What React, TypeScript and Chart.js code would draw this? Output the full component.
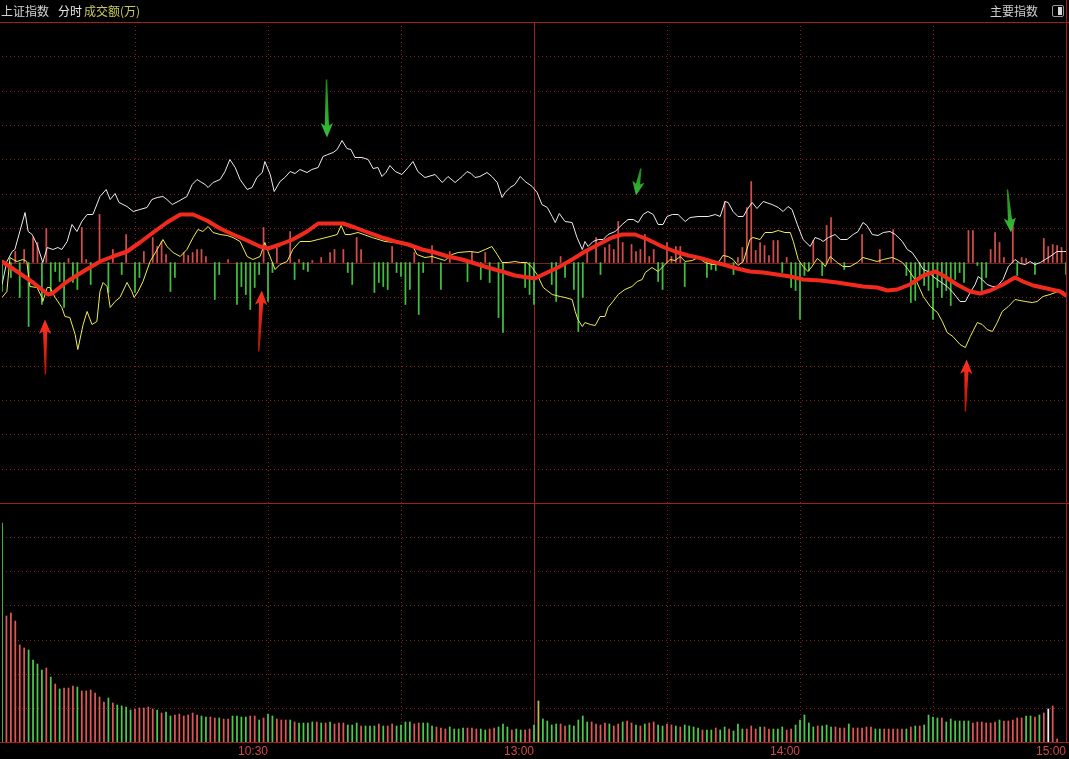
import React, { useEffect, useRef } from 'react';
import { Chart, registerables } from 'chart.js';

Chart.register(...registerables);

// ---------------- axis data ----------------
// x = minutes of the trading session (0 = 9:30, 120 = 11:30/13:00, 240 = 15:00)
const xTickMinutes = [60, 120, 180, 240];
const xTickLabels = ['10:30', '13:00', '14:00', '15:00'];
const dottedGridMinutes = [30, 60, 90, 150, 180, 210];
const sessionBreakMinute = 120;

// top panel value units (zero line in the middle), bottom panel volume units
const priceTop = 240.5;
const priceStep = 481 / 14;
const volumePanelTop = 239;
const volumeStep = 239 / 7;

// ---------------- series ----------------
const indexLine = [
  [0, -22], [1.1, 1], [2.3, 11], [2.9, 13], [5.2, 50], [5.9, 31], [6.8, 28], [7.9, 18], [9.2, 0], [10.2, 15],
  [11.5, 13], [12.6, 15], [13.5, 13], [14.7, 21], [15.8, 38], [16.9, 31], [18.0, 41], [19.2, 48], [20.5, 48], [22.1, 66],
  [23.5, 73], [24.4, 63], [25.5, 69], [26.4, 60], [28.2, 56], [29.6, 51], [31.1, 53], [32.7, 55], [33.8, 63], [35.0, 65],
  [36.3, 66], [37.2, 63], [38.4, 58], [39.7, 61], [41.7, 66], [42.9, 78], [44.0, 83], [44.7, 81], [45.8, 78], [46.5, 75],
  [47.6, 80], [49.2, 83], [50.3, 91], [51.4, 103], [52.6, 95], [53.7, 83], [55.3, 73], [56.4, 75], [57.5, 85], [58.7, 90],
  [59.3, 101], [60.5, 88], [61.4, 71], [62.7, 81], [63.8, 85], [65.0, 91], [66.1, 89], [67.2, 93], [68.8, 90], [69.9, 93],
  [71.3, 95], [72.4, 106], [73.5, 108], [74.7, 110], [75.6, 113], [76.7, 122], [77.8, 114], [78.7, 113], [79.6, 105], [81.2, 105],
  [82.6, 103], [83.7, 94], [84.8, 95], [85.7, 86], [86.6, 90], [87.5, 97], [88.7, 91], [90.2, 88], [91.6, 95], [92.7, 101],
  [93.8, 91], [95.4, 85], [97.7, 88], [99.3, 80], [100.6, 86], [102.2, 80], [103.8, 86], [104.9, 91], [105.8, 89], [106.7, 85],
  [107.8, 86], [109.4, 90], [110.5, 86], [111.7, 80], [112.8, 65], [113.5, 70], [114.6, 75], [115.7, 78], [116.9, 86], [118.0, 81],
  [119.6, 76], [120.7, 70], [121.8, 58], [123.0, 55], [124.1, 46], [124.8, 40], [125.7, 49], [127.0, 41], [128.6, 40], [129.7, 25],
  [130.9, 13], [131.5, 21], [132.2, 16], [133.3, 21], [134.5, 23], [135.6, 23], [136.7, 28], [138.3, 31], [139.9, 38], [141.2, 43],
  [142.4, 43], [143.5, 40], [144.6, 48], [145.7, 51], [146.9, 48], [148.0, 38], [149.1, 38], [150.0, 46], [151.2, 48], [152.5, 48],
  [154.1, 41], [155.2, 45], [157.0, 46], [159.3, 46], [160.9, 48], [162.0, 46], [163.1, 61], [163.8, 60], [164.9, 51], [166.0, 46],
  [167.2, 46], [168.1, 53], [169.2, 60], [170.3, 54], [171.7, 61], [173.7, 58], [175.1, 55], [176.2, 51], [177.3, 56], [178.2, 53],
  [179.4, 38], [180.7, 23], [182.3, 16], [183.4, 25], [184.6, 23], [185.2, 21], [186.4, 25], [187.9, 28], [189.1, 23], [190.6, 23],
  [192.0, 28], [193.1, 31], [194.2, 40], [195.1, 37], [196.3, 28], [197.6, 27], [198.8, 30], [200.3, 31], [201.5, 28], [203.1, 21],
  [204.2, 13], [205.3, 10], [206.7, 1], [207.8, -7], [208.9, -9], [210.0, -14], [211.6, -19], [213.2, -24], [214.5, -30], [216.1, -39],
  [217.3, -39], [218.4, -30], [219.5, -22], [220.2, -14], [221.1, -17], [222.2, -22], [223.4, -24], [224.5, -24], [225.8, -17], [227.0, -4],
  [228.5, 3], [229.7, -1], [230.8, -2], [231.9, 1], [233.0, -2], [234.2, 0], [235.3, 3], [236.4, 6], [238.0, 11], [239.4, 11], [240, 11],
];

const flowLine = [
  [0, -35], [1.1, -29], [1.8, 5], [2.5, 3], [3.4, 1], [4.7, 3], [5.6, 1], [6.3, -24], [7.9, -25], [9.0, -35],
  [9.2, -39], [10.2, -25], [10.8, -25], [12.0, -35], [13.5, -45], [14.2, -54], [15.3, -55], [16.5, -72], [17.1, -87], [18.3, -62],
  [19.2, -49], [20.3, -62], [21.4, -59], [22.1, -29], [22.8, -20], [23.7, -24], [24.4, -45], [25.5, -39], [26.6, -35], [28.2, -20],
  [29.3, -29], [29.8, -35], [30.7, -29], [31.8, -19], [33.4, 1], [35.0, 13], [36.3, 23], [37.2, 16], [38.6, 10], [40.2, 6],
  [41.7, 13], [43.1, 25], [44.2, 33], [45.3, 31], [46.5, 36], [47.6, 30], [49.2, 28], [50.8, 27], [52.1, 25], [53.7, 21],
  [55.3, 6], [56.6, 3], [58.2, 6], [59.3, 20], [60.0, 11], [60.9, 1], [61.6, -7], [62.7, -2], [64.3, 1], [65.6, 13],
  [67.2, 21], [69.5, 21], [71.3, 23], [74.0, 26], [75.6, 28], [76.5, 37], [77.4, 28], [78.5, 28], [80.3, 30], [83.5, 25],
  [86.4, 21], [88.7, 20], [91.6, 18], [92.7, 16], [93.6, 8], [95.4, 5], [97.0, 6], [99.9, 2], [101.5, 8], [102.9, 10],
  [105.6, 11], [107.4, 10], [109.0, 13], [110.5, 16], [111.7, 8], [112.8, 0], [114.2, 0], [115.7, 1], [116.9, 0], [118.4, 0],
  [119.6, -5], [120.7, -12], [122.1, -25], [124.1, -32], [125.9, -34], [127.0, -35], [128.6, -37], [129.3, -49], [129.9, -57], [130.9, -64],
  [131.5, -60], [132.7, -62], [133.8, -63], [134.9, -54], [136.0, -54], [136.7, -45], [137.8, -39], [139.0, -32], [140.5, -27], [142.1, -24],
  [143.3, -19], [144.4, -17], [145.1, -10], [146.6, -5], [148.0, -9], [149.1, -4], [150.7, 3], [151.8, 2], [153.0, 6], [154.1, 1],
  [155.7, 2], [157.0, 5], [158.6, 0], [160.2, -2], [161.3, -2], [162.6, 7], [163.8, 6], [164.9, 3], [166.0, -3], [167.2, 1],
  [168.7, 23], [169.4, 25], [171.0, 23], [172.1, 30], [173.7, 30], [175.1, 32], [176.6, 30], [177.8, 30], [178.5, 21], [179.6, 3],
  [180.7, -4], [181.8, -9], [182.7, -4], [183.9, 4], [185.0, 0], [185.7, -4], [186.8, 6], [188.4, 0], [189.7, -4], [191.3, -4],
  [192.9, 0], [194.2, 5], [195.8, 3], [197.4, 1], [198.8, 3], [200.8, 5], [201.9, 3], [203.1, 0], [204.4, -7], [206.4, -20],
  [207.8, -34], [209.4, -44], [211.0, -50], [212.1, -59], [213.2, -70], [214.5, -74], [216.1, -82], [217.3, -85], [218.4, -74], [220.0, -60],
  [221.1, -62], [222.2, -67], [223.4, -69], [224.5, -60], [225.6, -49], [227.0, -44], [228.5, -37], [230.8, -39], [232.4, -40], [233.5, -39],
  [234.8, -34], [236.4, -32], [238.2, -29], [239.4, -29], [240, -32],
];

const averageLine = [
  [0, 1], [3.4, -9], [7.0, -20], [10.4, -32], [11.3, -31], [14.7, -19], [18.3, -9], [22.1, 1], [25.0, 6], [28.2, 11],
  [31.1, 20], [34.1, 30], [37.2, 40], [40.2, 48], [43.1, 48], [46.2, 42], [49.2, 34], [52.1, 28], [55.3, 22], [58.2, 16],
  [60.0, 14], [62.7, 18], [65.6, 23], [68.8, 31], [71.3, 39], [74.7, 39], [76.9, 39], [79.6, 35], [82.6, 30], [85.7, 25],
  [88.7, 21], [91.6, 18], [94.8, 13], [97.7, 10], [100.6, 6], [103.8, 3], [106.7, -1], [109.6, -5], [112.8, -9], [115.7, -13],
  [118.7, -15], [120.2, -16], [122.5, -11], [125.4, -5], [128.6, 3], [131.5, 11], [134.5, 18], [137.6, 25], [139.9, 28], [142.8, 28],
  [145.7, 23], [148.9, 16], [151.8, 11], [154.8, 7], [157.9, 4], [160.9, 0], [162.7, -2], [165.8, -6], [168.7, -9], [171.7, -10],
  [174.8, -12], [177.8, -14], [180.7, -17], [184.6, -18], [188.4, -20], [191.3, -22], [194.2, -24], [197.4, -25], [199.7, -28], [201.9, -27],
  [204.8, -22], [207.8, -13], [210.5, -9], [212.3, -13], [215.4, -22], [218.4, -29], [220.6, -31], [222.9, -28], [225.8, -22], [228.5, -15],
  [230.3, -19], [232.6, -23], [235.7, -26], [238.7, -29], [240, -33],
];

// net-flow bars of the top panel (positive = red, negative = green)
const flowMinutes = [
  0, 2, 3, 4, 5, 6, 7, 8, 9, 10, 11, 12, 13, 14, 15, 16, 17, 18, 19, 20, 22, 24, 25, 27, 28, 30, 31, 32, 34, 35,
  36, 37, 38, 39, 41, 42, 43, 44, 45, 46, 48, 49, 51, 53, 54, 55, 56, 57, 58, 59, 60, 61, 62, 65, 66, 67, 68, 69, 70, 72,
  74, 75, 77, 78, 79, 80, 81, 84, 85, 86, 87, 88, 89, 90, 91, 92, 93, 94, 95, 97, 99, 101, 105, 106, 108, 109, 110, 112, 113, 118,
  119, 120, 124, 125, 126, 127, 129, 130, 131, 132, 134, 135, 136, 137, 138, 139, 140, 142, 143, 144, 145, 146, 147, 148, 149, 150, 151, 152, 153, 154,
  159, 160, 161, 163, 165, 166, 167, 168, 169, 170, 171, 172, 173, 174, 175, 176, 177, 178, 179, 180, 181, 182, 183, 185, 186, 187, 190, 194, 198, 201,
  204, 205, 206, 207, 208, 209, 210, 211, 212, 213, 214, 215, 216, 217, 218, 219, 220, 221, 222, 223, 224, 225, 226, 228, 229, 230, 231, 233, 235, 236,
  237, 238, 239, 240,
];
const flowValues = [
  -29, -15, 11, -35, 13, -64, 25, 20, -42, 34, -29, -9, -19, -45, 4, -20, -27, 35, 3, -22, 48, -30, 13, -12, 28, -30, -15, 11, 25, 16,
  21, 8, -29, -15, 10, 7, 10, 13, 13, 6, -37, -12, 3, -42, -24, -32, -47, -25, -12, 35, -39, -10, 16, 31, -17, 3, -7, -9, 2, 5,
  10, 13, 13, -10, -22, 25, 13, -30, -20, -24, -27, 16, -10, -14, -42, -27, 10, -52, -10, 17, -27, 11, -19, 11, -17, 10, -20, -55, -70, -25,
  -32, -42, -22, -39, 6, -15, -27, -69, -35, 10, 25, -12, 15, 18, 13, 41, 20, 18, 11, 13, 28, 6, 13, -19, -27, 20, 6, 16, 16, -24,
  -15, -7, -8, 61, -12, 5, 15, 55, 81, 12, 20, 17, 7, 22, 22, -10, 5, -25, -28, -57, -13, -8, 22, -13, 37, 45, -7, 28, 13, 33,
  -13, -40, -38, -13, -23, -28, -57, -25, -35, -28, -43, -17, -10, -20, 32, 32, -3, -28, -15, 13, 30, 20, 5, 43, -13, 5, 4, -12, 24, 16,
  18, 17, 15, -12,
];

// per-minute turnover bars (bottom panel)
const volume = [
  219, 126, 129, 121, 97, 94, 92, 82, 78, 72, 74, 65, 58, 53, 54, 54, 56, 55, 51, 51,
  52, 49, 45, 40, 44, 39, 37, 36, 35, 32, 33, 34, 34, 35, 33, 32, 29, 30, 26, 27,
  28, 26, 27, 29, 27, 26, 25, 25, 24, 24, 23, 23, 26, 26, 25, 25, 26, 26, 22, 24,
  28, 26, 23, 22, 22, 22, 20, 19, 19, 19, 20, 20, 19, 19, 20, 18, 19, 19, 17, 17,
  19, 16, 16, 16, 16, 18, 16, 16, 18, 16, 17, 20, 20, 18, 19, 19, 19, 16, 15, 14,
  13, 15, 13, 13, 14, 14, 14, 13, 13, 12, 13, 14, 15, 18, 15, 12, 13, 12, 12, 13,
  17, 41, 23, 21, 17, 18, 18, 16, 17, 16, 22, 26, 20, 20, 18, 17, 19, 18, 16, 18,
  20, 21, 19, 17, 16, 18, 19, 20, 17, 16, 18, 17, 16, 15, 17, 16, 15, 14, 12, 12,
  12, 14, 12, 15, 13, 11, 18, 13, 13, 16, 13, 15, 15, 13, 13, 13, 15, 12, 13, 17,
  22, 27, 19, 15, 16, 16, 17, 15, 15, 14, 14, 18, 14, 14, 14, 15, 15, 13, 13, 13,
  13, 13, 13, 13, 13, 15, 16, 16, 17, 27, 25, 24, 24, 20, 23, 21, 21, 21, 21, 19,
  20, 20, 19, 19, 20, 22, 21, 21, 22, 24, 24, 26, 26, 25, 27, 29, 33, 36, 3,
];
// r = up minute, g = down minute, y = flat, w = current minute
const volumeDir =
  'grrrrrggggrgrgrrrgrr' +
  'rrrrgrggggrrrrrgrggr' +
  'rrrrrggrrgrrggggrrgr' +
  'ggrrrgrggggrgrgrrrgg' +
  'grgggrgrrggggrrgggrr' +
  'rggggrrrggrrgggrggrr' +
  'gyggggrrgggggrrrrgrr' +
  'grrgrgrrggrrgrggggrg' +
  'grggrgggrrrgrrgggrrg' +
  'ggggrgggrrrgrrrrrggr' +
  'rrrrgrgrggggrggggggr' +
  'rrrrrgrrrrrggrgrwrrrr';

// annotation arrows: [minute, value] of tail and head
const arrowTails = [[9.8, -112], [57.9, -89], [217.3, -149], [73.2, 183], [144.1, 94], [226.8, 73]];
const arrowHeads = [[9.7, -57], [58.6, -28], [217.6, -97], [73.3, 125], [143.0, 67], [227.6, 30]];
const arrowKinds = ['up', 'up', 'up', 'down', 'down', 'down'];

// ---------------- colours ----------------
const DOT = '#8e1b1b';
const SOLID = '#a81c1c';
const ZERO = '#7c1f1f';
const BREAK = '#9a2222';

const panelGridPlugin = {
  id: 'panelGrid',
  beforeDraw(chart: any) {
    const { ctx } = chart;
    ctx.save();
    ctx.fillStyle = '#000';
    ctx.fillRect(0, 0, chart.width, chart.height);
    ctx.restore();
  },
  beforeDatasetsDraw(chart: any) {
    const { ctx, chartArea: a, scales } = chart;
    const sx = scales.x;
    const sy = scales.y;
    const sv = scales.yv;
    const H = (py: number, color: string, dash: number[], x0 = a.left, x1 = a.right) => {
      const yy = Math.round(py) + 0.5;
      ctx.beginPath();
      ctx.strokeStyle = color;
      ctx.setLineDash(dash);
      ctx.moveTo(x0, yy);
      ctx.lineTo(x1, yy);
      ctx.stroke();
    };
    const V = (px: number, color: string, dash: number[], y0 = a.top, y1 = a.bottom) => {
      const xx = Math.round(px) + 0.5;
      ctx.beginPath();
      ctx.strokeStyle = color;
      ctx.setLineDash(dash);
      ctx.moveTo(xx, y0);
      ctx.lineTo(xx, y1);
      ctx.stroke();
    };
    ctx.save();
    ctx.lineWidth = 1;
    for (let k = 1; k <= 6; k++) {
      H(sy.getPixelForValue(k * priceStep), DOT, [1, 3]);
      H(sy.getPixelForValue(-k * priceStep), DOT, [1, 3]);
      H(sv.getPixelForValue(k * volumeStep), DOT, [1, 3]);
    }
    dottedGridMinutes.forEach((m) => V(sx.getPixelForValue(m), DOT, [1, 3]));
    H(sy.getPixelForValue(0), ZERO, []);
    H(sv.getPixelForValue(volumePanelTop), SOLID, [], 0, chart.width);
    H(sv.getPixelForValue(0), SOLID, [], 0, chart.width);
    H(sy.getPixelForValue(priceTop), SOLID, [], 0, chart.width);
    V(sx.getPixelForValue(sessionBreakMinute), BREAK, []);
    V(sx.getPixelForValue(240), SOLID, [], 0, a.bottom);
    ctx.restore();
  },
};

function drawArrow(ctx: any, tx: number, ty: number, hx: number, hy: number, kind: string) {
  const dx = hx - tx;
  const dy = hy - ty;
  const len = Math.hypot(dx, dy);
  const ux = dx / len;
  const uy = dy / len;
  const nx = -uy;
  const ny = ux;
  const headLen = Math.min(12, len * 0.42);
  const headW = 6.2;
  const w0 = 0.7;
  const w1 = 2.1;
  const bx = hx - ux * headLen;
  const by = hy - uy * headLen;
  const barbX = bx - ux * 2.5;
  const barbY = by - uy * 2.5;
  const g = ctx.createLinearGradient(tx, ty, hx, hy);
  if (kind === 'up') {
    g.addColorStop(0, '#b81208');
    g.addColorStop(1, '#ff3322');
  } else {
    g.addColorStop(0, '#1c8a1c');
    g.addColorStop(1, '#36c036');
  }
  ctx.beginPath();
  ctx.moveTo(tx + nx * w0, ty + ny * w0);
  ctx.lineTo(bx + nx * w1, by + ny * w1);
  ctx.lineTo(barbX + nx * headW, barbY + ny * headW);
  ctx.lineTo(hx, hy);
  ctx.lineTo(barbX - nx * headW, barbY - ny * headW);
  ctx.lineTo(bx - nx * w1, by - ny * w1);
  ctx.lineTo(tx - nx * w0, ty - ny * w0);
  ctx.closePath();
  ctx.fillStyle = g;
  ctx.fill();
}

const arrowPlugin = {
  id: 'arrows',
  afterDatasetsDraw(chart: any) {
    const { ctx, scales } = chart;
    ctx.save();
    arrowTails.forEach((t, i) => {
      const h = arrowHeads[i];
      drawArrow(
        ctx,
        scales.x.getPixelForValue(t[0]),
        scales.y.getPixelForValue(t[1]),
        scales.x.getPixelForValue(h[0]),
        scales.y.getPixelForValue(h[1]),
        arrowKinds[i]
      );
    });
    ctx.restore();
  },
};

const volColor: Record<string, string> = { r: '#e05656', g: '#4cc84c', y: '#b8c040', w: '#f0f0f0' };

export default function App() {
  const canvasRef = useRef<HTMLCanvasElement | null>(null);

  useEffect(() => {
    const canvas = canvasRef.current;
    if (!canvas) return;
    const chart = new Chart(canvas, {
      type: 'bar',
      data: {
        datasets: [
          {
            type: 'line',
            label: '均价',
            data: averageLine.map(([x, y]) => ({ x, y })),
            borderColor: '#f22a1e',
            borderWidth: 4,
            pointRadius: 0,
            tension: 0,
            borderJoinStyle: 'round',
            borderCapStyle: 'round',
            xAxisID: 'x',
            yAxisID: 'y',
          } as any,
          {
            type: 'line',
            label: '指数',
            data: indexLine.map(([x, y]) => ({ x, y })),
            borderColor: '#ececec',
            borderWidth: 1,
            pointRadius: 0,
            tension: 0,
            xAxisID: 'x',
            yAxisID: 'y',
          } as any,
          {
            type: 'line',
            label: '资金',
            data: flowLine.map(([x, y]) => ({ x, y })),
            borderColor: '#eded52',
            borderWidth: 1,
            pointRadius: 0,
            tension: 0,
            xAxisID: 'x',
            yAxisID: 'y',
          } as any,
          {
            type: 'bar',
            label: '净流',
            data: flowMinutes.map((m, i) => ({ x: m, y: flowValues[i] })),
            backgroundColor: (c: any) => (flowValues[c.dataIndex] >= 0 ? '#d24c4c' : '#3fbf3f'),
            barThickness: 1.1,
            grouped: false,
            xAxisID: 'x',
            yAxisID: 'y',
          } as any,
          {
            type: 'bar',
            label: '成交额',
            data: volume.map((v, i) => ({ x: i, y: v })),
            backgroundColor: (c: any) => volColor[volumeDir[c.dataIndex]] || '#e05656',
            barThickness: 1.1,
            grouped: false,
            xAxisID: 'x',
            yAxisID: 'yv',
          } as any,
        ],
      },
      options: {
        responsive: false,
        maintainAspectRatio: false,
        animation: false,
        events: [],
        layout: { padding: { left: 2, right: 3, top: 22, bottom: 0 } },
        plugins: { legend: { display: false }, tooltip: { enabled: false } },
        scales: {
          x: {
            type: 'linear',
            min: 0,
            max: 240,
            offset: false,
            grid: { display: false, drawTicks: false, offset: false },
            border: { display: false },
            ticks: {
              autoSkip: false,
              maxRotation: 0,
              align: 'end',
              padding: 2,
              color: '#d24848',
              font: { family: '"Liberation Sans", Arial, sans-serif', size: 12 },
              callback: (_v: any, i: number) => xTickLabels[i],
            },
            afterBuildTicks: (s: any) => {
              s.ticks = xTickMinutes.map((v) => ({ value: v }));
            },
            afterFit: (s: any) => {
              s.height = 17;
            },
          },
          y: { type: 'linear', display: false, min: priceTop - 720, max: priceTop },
          yv: { type: 'linear', display: false, min: 0, max: 720 },
        },
      } as any,
      plugins: [panelGridPlugin, arrowPlugin],
    });
    return () => chart.destroy();
  }, []);

  const cjk = '"Noto Sans CJK SC", "Noto Sans", sans-serif';
  return (
    <div style={{ position: 'fixed', left: 0, top: 0, width: 1069, height: 759, background: '#000', overflow: 'hidden' }}>
      <canvas ref={canvasRef} width={1069} height={759} style={{ display: 'block' }} />
      <span style={{ position: 'absolute', left: 1, top: 4, font: `12px ${cjk}`, lineHeight: '14px', color: '#d4d4d4', whiteSpace: 'nowrap' }}>上证指数</span>
      <span style={{ position: 'absolute', left: 58, top: 4, font: `12px ${cjk}`, lineHeight: '14px', color: '#e8e8e8', whiteSpace: 'nowrap' }}>分时</span>
      <span style={{ position: 'absolute', left: 84, top: 4, font: `12px ${cjk}`, lineHeight: '14px', color: '#c8c864', whiteSpace: 'nowrap' }}>成交额(万)</span>
      <span style={{ position: 'absolute', left: 990, top: 4, font: `12px ${cjk}`, lineHeight: '14px', color: '#cfcfcf', whiteSpace: 'nowrap' }}>主要指数</span>
      <div style={{ position: 'absolute', left: 1052, top: 5, width: 10, height: 10, border: '1px solid #9a9a9a', borderRadius: 2, overflow: 'hidden' }}>
        <div style={{ position: 'absolute', right: 1, top: 1, width: 4, height: 8, background: '#d8d8d8' }} />
      </div>
    </div>
  );
}
